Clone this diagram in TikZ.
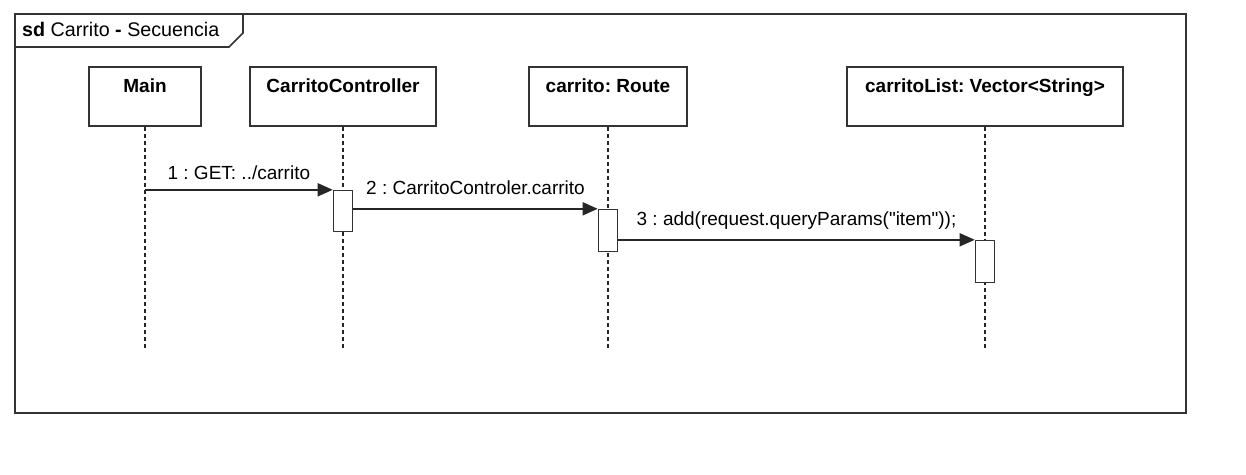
\documentclass[tikz,border=0pt]{standalone}
\usepackage{fontspec}
\setmainfont{Liberation Sans}[Ligatures=TeXOff]
\usetikzlibrary{positioning, arrows.meta}

\newcommand{\umlfont}{\fontsize{19}{23}\selectfont}
\tikzset{
  frame/.style={draw=black!80, line width=1.6pt},
  obj/.style={frame, fill=white, font=\umlfont\bfseries, inner xsep=0pt, inner ysep=11pt, text height=14pt, text depth=23pt},
  act/.style={frame, fill=white, minimum width=19pt, inner sep=0pt},
  life/.style={draw=black!85, line width=1.3pt, dash pattern=on 4pt off 3pt},
  msg/.style={draw=black!85, line width=1.6pt, -{Triangle[length=15pt, width=13pt]}},
  lbl/.style={midway, anchor=base, inner sep=0pt}
}

\begin{document}
\frenchspacing
\begin{tikzpicture}[x=1pt, y=-1pt, font=\umlfont]
  \useasboundingbox (0,0) rectangle (1246,474);
  % sequence frame
  \draw[frame] (15,14) rectangle (1186,413);
  \draw[frame] (15,47) -- (229,47) -- (243,33) -- (243,14);
  \node[anchor=base west, inner sep=0pt, font=\fontsize{19.7}{23}\selectfont] (title) at (22,36.5) {{\bfseries sd} Carrito {\bfseries -} Secuencia};

  % objects
  \node[obj, minimum width=112pt] (main) at (145,96.5) {Main};
  \node[obj, minimum width=186pt] (ctrl) at (343,96.5) {CarritoController};
  \node[obj, minimum width=158pt] (route) at (608,96.5) {carrito: Route};
  \node[obj, minimum width=276pt] (list) at (985,96.5) {carritoList: Vector<String>};

  % lifelines
  \coordinate[below=221pt of main.south] (mainend);
  \coordinate[below=221pt of ctrl.south] (ctrlend);
  \coordinate[below=221pt of route.south] (routeend);
  \coordinate[below=221pt of list.south] (listend);
  \draw[life] (main.south) -- (mainend);
  \draw[life] (ctrl.south) -- (ctrlend);
  \draw[life] (route.south) -- (routeend);
  \draw[life] (list.south) -- (listend);

  % activations
  \node[act, minimum height=41pt, below=63pt of ctrl.south] (ctrlact) {};
  \node[act, minimum height=42pt, below=82pt of route.south] (routeact) {};
  \node[act, minimum height=42pt, below=113pt of list.south] (listact) {};

  % messages
  \coordinate (m1) at (main.south |- ctrlact.north);
  \coordinate (m2) at (ctrlact.east |- routeact.north);
  \coordinate (m3) at (routeact.east |- listact.north);
  \draw[msg] (m1) -- node[lbl, yshift=10pt] {1 : GET: ../carrito} (ctrlact.north west);
  \draw[msg] (m2) -- node[lbl, yshift=14pt] {2 : CarritoControler.carrito} (routeact.north west);
  \draw[msg] (m3) -- node[lbl, yshift=14pt] {3 : add(request.queryParams("item"));} (listact.north west);
\end{tikzpicture}
\end{document}
